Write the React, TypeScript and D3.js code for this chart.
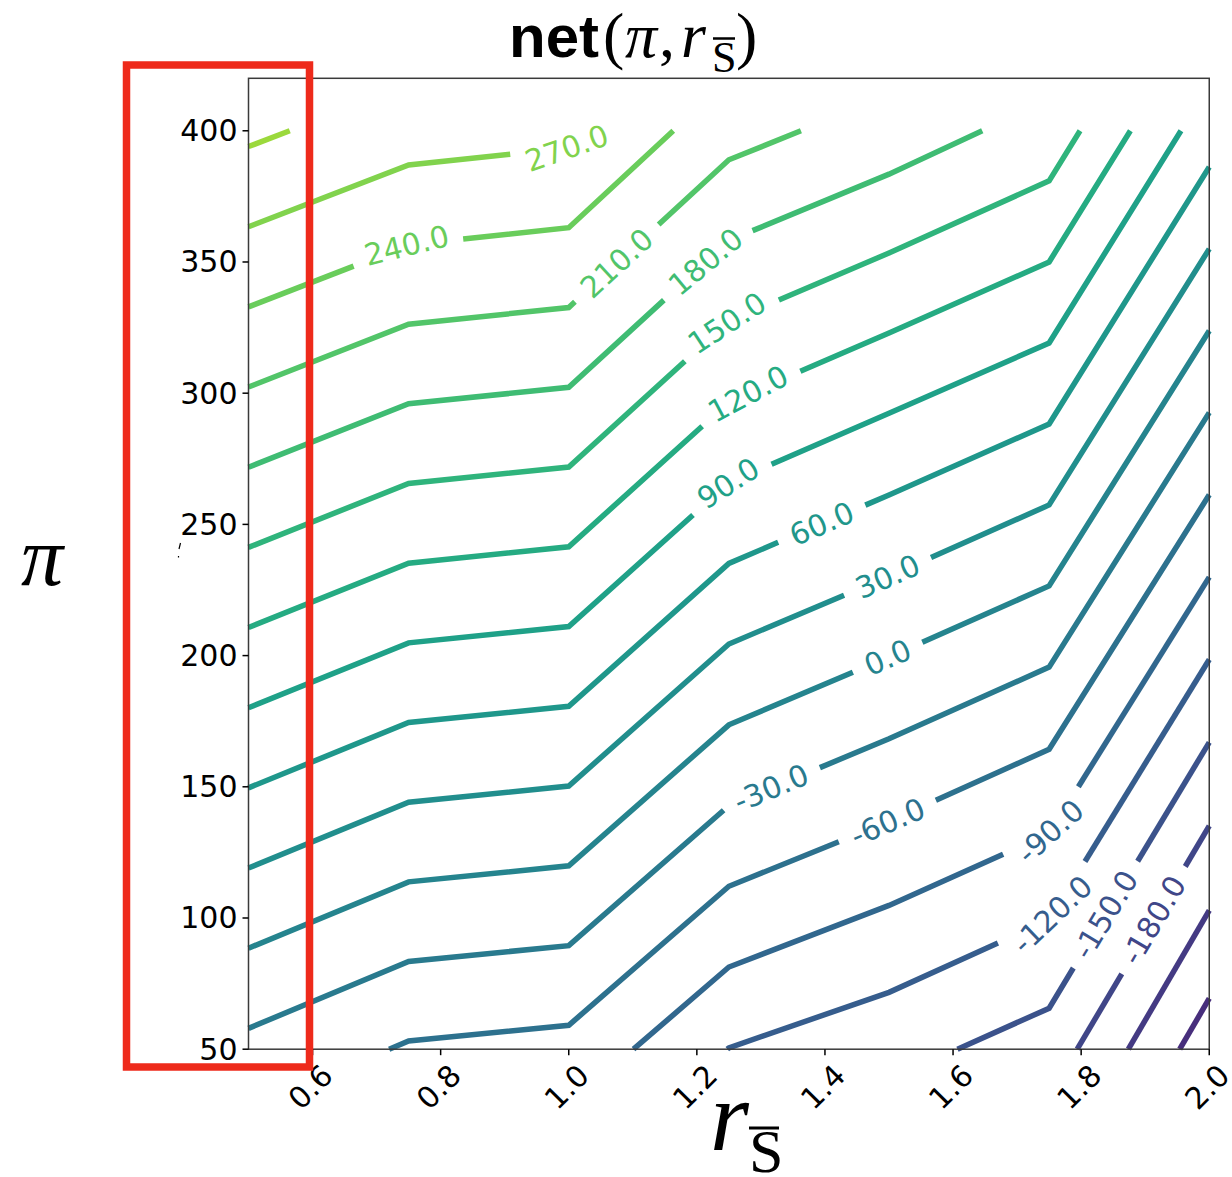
import React from 'react';
import * as d3 from 'd3';

// ---- data: net value at each (r, π) grid node ----
const rGrid = [0.5, 0.75, 1.0, 1.25, 1.5, 1.75, 2.0];
const piRows = [50, 100, 150, 200, 250, 300, 350, 400];
const netR050 = [-37.8, 11.3, 60.4, 109.5, 158.6, 207.7, 256.8, 305.9];
const netR075 = [-63.1, -13.6, 35.8, 85.2, 134.6, 184.0, 233.5, 282.9];
const netR100 = [-69.0, -19.6, 29.7, 79.1, 128.4, 177.8, 227.1, 276.5];
const netR125 = [-120.5, -71.8, -23.0, 25.7, 74.5, 123.3, 172.0, 220.8];
const netR150 = [-139.5, -94.5, -47.6, 0.5, 49.2, 97.4, 146.6, 196.5];
const netR175 = [-163.9, -119.4, -73.7, -25.8, 22.8, 71.4, 120.0, 168.5];
const netR200 = [-257.2, -212.7, -166.1, -118.6, -70.8, -22.9, 25.2, 73.3];
const netGrid = [netR050, netR075, netR100, netR125, netR150, netR175, netR200];

const levels = [-240, -210, -180, -150, -120, -90, -60, -30, 0, 30, 60, 90, 120, 150, 180, 210, 240, 270, 300];
const labelLevels = [-180, -150, -120, -90, -60, -30, 0, 30, 60, 90, 120, 150, 180, 210, 240, 270];
const labelR = [1.913, 1.838, 1.755, 1.752, 1.498, 1.316, 1.498, 1.498, 1.395, 1.249, 1.28, 1.247, 1.214, 1.075, 0.747, 0.997];
const xTicks = [0.6, 0.8, 1.0, 1.2, 1.4, 1.6, 1.8, 2.0];
const yTicks = [50, 100, 150, 200, 250, 300, 350, 400];
const colorDomain = [-337.5, 412.5];

// ---- layout ----
const W = 1232, H = 1177;
const X0 = 248.5, X1 = 1209.25, Y0 = 78.3, Y1 = 1049.2;
const FS = 30;
const PI_MIN = piRows[0], PI_MAX = piRows[piRows.length - 1];

const x = d3.scaleLinear().domain([0.5, 2.0]).range([X0, X1]);
const y = d3.scaleLinear().domain([50, 420]).range([Y1, Y0]);
const color = (v: number) => d3.interpolateViridis((v - colorDomain[0]) / (colorDomain[1] - colorDomain[0]));

function textWidth(s: string) {
  let w = 0;
  for (const c of s) w += c === '.' ? 0.318 : c === '-' ? 0.361 : 0.636;
  return w * FS;
}

type P = [number, number];

// π where the column's net crosses the level (piecewise linear, end segments extended)
function piAtLevel(col: number[], level: number): number {
  const n = col.length;
  let k = 0;
  if (level <= col[0]) k = 0;
  else if (level >= col[n - 1]) k = n - 2;
  else {
    for (k = 0; k < n - 1; k++) if (level >= col[k] && level <= col[k + 1]) break;
  }
  const t = (level - col[k]) / (col[k + 1] - col[k]);
  return piRows[k] + t * (piRows[k + 1] - piRows[k]);
}

function contourPixels(level: number): P[] {
  const pts: P[] = rGrid.map((r, i) => [r, piAtLevel(netGrid[i], level)]);
  const out: P[] = [];
  for (let i = 0; i < pts.length - 1; i++) {
    const [ra, pa] = pts[i];
    const [rb, pb] = pts[i + 1];
    const dp = pb - pa;
    let t0 = 0, t1 = 1;
    if (dp === 0) {
      if (pa < PI_MIN || pa > PI_MAX) continue;
    } else {
      const ta = (PI_MIN - pa) / dp, tb = (PI_MAX - pa) / dp;
      t0 = Math.max(0, Math.min(ta, tb));
      t1 = Math.min(1, Math.max(ta, tb));
      if (t0 >= t1) continue;
    }
    const A: P = [x(ra + (rb - ra) * t0), y(pa + dp * t0)];
    const B: P = [x(ra + (rb - ra) * t1), y(pa + dp * t1)];
    const last = out[out.length - 1];
    if (!last || Math.hypot(last[0] - A[0], last[1] - A[1]) > 0.01) out.push(A);
    out.push(B);
  }
  return out;
}

function cumLen(pts: P[]) {
  const c = [0];
  for (let i = 1; i < pts.length; i++) c.push(c[i - 1] + Math.hypot(pts[i][0] - pts[i - 1][0], pts[i][1] - pts[i - 1][1]));
  return c;
}

function pointAt(pts: P[], c: number[], s: number): P {
  const L = c[c.length - 1];
  s = Math.max(0, Math.min(L, s));
  for (let i = 1; i < pts.length; i++) {
    if (s <= c[i] || i === pts.length - 1) {
      const seg = c[i] - c[i - 1] || 1;
      const t = (s - c[i - 1]) / seg;
      return [pts[i - 1][0] + (pts[i][0] - pts[i - 1][0]) * t, pts[i - 1][1] + (pts[i][1] - pts[i - 1][1]) * t];
    }
  }
  return pts[pts.length - 1];
}

function subPath(pts: P[], c: number[], s0: number, s1: number): P[] {
  const L = c[c.length - 1];
  s0 = Math.max(0, s0);
  s1 = Math.min(L, s1);
  if (s1 <= s0) return [];
  const res: P[] = [pointAt(pts, c, s0)];
  for (let i = 0; i < pts.length; i++) if (c[i] > s0 && c[i] < s1) res.push(pts[i]);
  res.push(pointAt(pts, c, s1));
  return res;
}

function arcAtX(pts: P[], c: number[], px: number): number {
  for (let i = 1; i < pts.length; i++) {
    const a = pts[i - 1], b = pts[i];
    if ((a[0] - px) * (b[0] - px) <= 0 && b[0] !== a[0]) {
      const t = (px - a[0]) / (b[0] - a[0]);
      return c[i - 1] + t * (c[i] - c[i - 1]);
    }
  }
  return c[c.length - 1] / 2;
}

const line = d3.line<P>().x(d => d[0]).y(d => d[1]);

export default function App() {
  const items = levels.map(level => {
    const pts = contourPixels(level);
    const c = cumLen(pts);
    const col = color(level);
    const li = labelLevels.indexOf(level);
    if (li < 0 || pts.length < 2) {
      return { level, col, paths: [pts], label: null as any };
    }
    const text = level.toFixed(1);
    const w = textWidth(text);
    const s0 = arcAtX(pts, c, x(labelR[li]));
    const gap = w / 2 + 14;
    const center = pointAt(pts, c, s0);
    const a = pointAt(pts, c, s0 - w / 2);
    const b = pointAt(pts, c, s0 + w / 2);
    let ang = (Math.atan2(b[1] - a[1], b[0] - a[0]) * 180) / Math.PI;
    if (ang > 90) ang -= 180;
    if (ang < -90) ang += 180;
    return {
      level,
      col,
      paths: [subPath(pts, c, 0, s0 - gap), subPath(pts, c, s0 + gap, c[c.length - 1])],
      label: { text, cx: center[0], cy: center[1], ang },
    };
  });

  const serif = "'Liberation Serif', 'Times New Roman', serif";

  return (
    <svg width={W} height={H} viewBox={`0 0 ${W} ${H}`} style={{ display: 'block', position: 'absolute', left: 0, top: 0, background: '#fff' }}>
      <rect x={0} y={0} width={W} height={H} fill="#fff" />
      {/* contour lines */}
      <g fill="none" strokeWidth={5.5} strokeLinecap="butt" strokeLinejoin="miter">
        {items.map(it =>
          it.paths.filter(p => p.length > 1).map((p, k) => (
            <path key={`${it.level}-${k}`} d={line(p) || ''} stroke={it.col} />
          ))
        )}
      </g>
      {/* contour labels */}
      <g fontFamily="'DejaVu Sans', sans-serif" fontSize={FS}>
        {items.filter(it => it.label).map(it => (
          <text key={`lab${it.level}`} x={0} y={0} fill={it.col} textAnchor="middle" dominantBaseline="central"
            transform={`translate(${it.label.cx},${it.label.cy}) rotate(${it.label.ang})`}>
            {it.label.text}
          </text>
        ))}
      </g>
      {/* frame */}
      <rect x={X0} y={Y0} width={X1 - X0} height={Y1 - Y0} fill="none" stroke="#3a3a3a" strokeWidth={1.5} />
      {/* ticks */}
      <g fontFamily="'DejaVu Sans', sans-serif" fontSize={FS} fill="#000">
        {yTicks.map(t => (
          <g key={`y${t}`}>
            <line x1={X0 - 6} x2={X0} y1={y(t)} y2={y(t)} stroke="#000" strokeWidth={1.5} />
            <text x={X0 - 11} y={y(t)} textAnchor="end" dominantBaseline="central">{t}</text>
          </g>
        ))}
        {xTicks.map(t => (
          <g key={`x${t}`}>
            <line x1={x(t)} x2={x(t)} y1={Y1} y2={Y1 + 6} stroke="#000" strokeWidth={1.5} />
            <text x={0} y={0} textAnchor="middle" dominantBaseline="central"
              transform={`translate(${x(t) - 2},${1087}) rotate(-45)`}>{t.toFixed(1)}</text>
          </g>
        ))}
      </g>
      {/* title */}
      <g fill="#000">
        <text x={509} y={57} fontFamily="'Liberation Sans', Arial, sans-serif" fontWeight="bold" fontSize={60}>net</text>
        <text x={603} y={57} fontFamily={serif} fontSize={64}>(</text>
        <text x={625} y={57} fontFamily={serif} fontStyle="italic" fontSize={64}>π</text>
        <text x={659} y={57} fontFamily={serif} fontSize={64}>,</text>
        <text x={681} y={57} fontFamily={serif} fontStyle="italic" fontSize={64}>r</text>
        <text x={712} y={72} fontFamily={serif} fontSize={44}>S</text>
        <line x1={713} x2={735} y1={38.5} y2={38.5} stroke="#000" strokeWidth={2.5} />
        <text x={736} y={57} fontFamily={serif} fontSize={64}>)</text>
      </g>
      {/* y label */}
      <text x={42} y={585} fontFamily={serif} fontStyle="italic" fontSize={84} textAnchor="middle">π</text>
      {/* x label */}
      <text x={710} y={1150} fontFamily={serif} fontSize={100}>
        <tspan fontStyle="italic">r</tspan>
        <tspan fontSize={62} dy={22}>S</tspan>
      </text>
      <line x1={749} x2={779} y1={1128} y2={1128} stroke="#000" strokeWidth={3} />
      {/* small mark */}
      <path d="M180.5,543 L179,549 M178.5,556 L178.5,557.5" stroke="#000" strokeWidth={1.2} fill="none" />
      {/* red annotation box */}
      <rect x={126.5} y={65} width={183} height={1002} fill="none" stroke="#ee2a1b" strokeWidth={7.5} />
    </svg>
  );
}
